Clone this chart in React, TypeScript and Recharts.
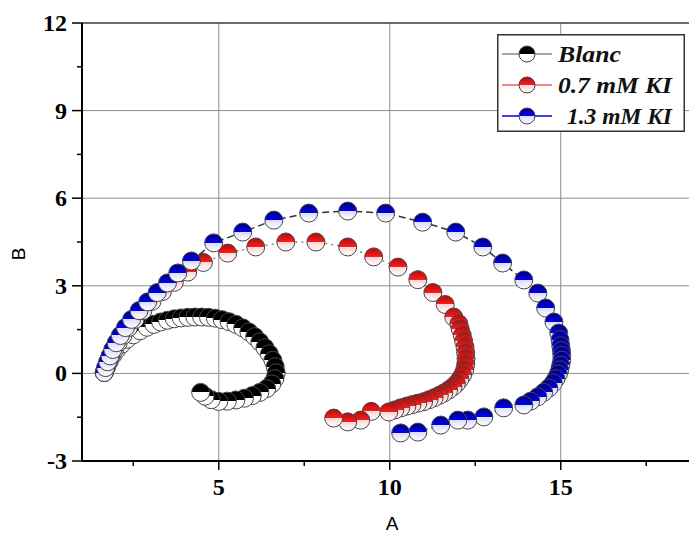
import { ScatterChart, Scatter, XAxis, YAxis, CartesianGrid, ReferenceLine, Legend } from 'recharts';

// Impedance spectra, [A, B] pairs in measurement order
const blanc: [number, number][] = [
  [1.65, 0.03], [1.72, 0.22], [1.8, 0.42], [1.9, 0.62], [2.02, 0.82], [2.16, 1.0], [2.32, 1.17],
  [2.5, 1.32], [2.7, 1.46], [2.9, 1.58], [3.1, 1.68], [3.3, 1.76], [3.5, 1.82], [3.7, 1.87],
  [3.9, 1.9], [4.1, 1.92], [4.3, 1.93], [4.5, 1.93], [4.7, 1.92], [4.9, 1.89], [5.1, 1.84],
  [5.3, 1.77], [5.5, 1.68], [5.7, 1.56], [5.88, 1.42], [6.05, 1.26], [6.2, 1.08], [6.35, 0.88],
  [6.48, 0.67], [6.58, 0.45], [6.65, 0.23], [6.68, 0.02], [6.64, -0.18], [6.55, -0.36],
  [6.4, -0.52], [6.2, -0.65], [5.98, -0.76], [5.75, -0.85], [5.5, -0.91], [5.25, -0.95],
  [5.0, -0.96], [4.78, -0.9], [4.6, -0.78], [4.47, -0.65],
];

const ki07: [number, number][] = [
  [1.65, 0.03], [1.7, 0.2], [1.77, 0.4], [1.85, 0.6], [1.95, 0.82], [2.06, 1.05], [2.2, 1.3],
  [2.36, 1.57], [2.55, 1.85], [2.78, 2.15], [3.05, 2.47], [3.35, 2.8], [3.7, 3.12], [4.09, 3.47],
  [4.55, 3.8], [5.26, 4.12], [6.08, 4.33], [6.96, 4.5], [7.84, 4.5], [8.77, 4.33], [9.53, 3.99],
  [10.24, 3.64], [10.82, 3.21], [11.26, 2.77], [11.62, 2.36], [11.87, 1.93], [12.02, 1.7],
  [12.06, 1.52], [12.12, 1.3], [12.16, 1.1], [12.2, 0.9], [12.22, 0.7], [12.23, 0.5], [12.22, 0.3],
  [12.19, 0.12], [12.13, -0.05], [12.05, -0.2], [11.95, -0.35], [11.85, -0.46], [11.72, -0.57],
  [11.58, -0.67], [11.45, -0.75], [11.3, -0.83], [11.15, -0.9], [10.99, -0.97], [10.82, -1.02],
  [10.65, -1.07], [10.5, -1.12], [10.32, -1.18], [10.15, -1.25], [9.97, -1.32], [9.46, -1.3],
  [9.15, -1.6], [8.77, -1.66], [8.36, -1.53],
];

const ki13: [number, number][] = [
  [1.65, 0.03], [1.69, 0.2], [1.75, 0.4], [1.82, 0.6], [1.9, 0.82], [2.0, 1.05], [2.12, 1.3],
  [2.27, 1.57], [2.45, 1.85], [2.67, 2.15], [2.92, 2.45], [3.2, 2.77], [3.5, 3.1], [3.8, 3.44],
  [4.2, 3.85], [4.85, 4.47], [5.7, 4.84], [6.61, 5.25], [7.63, 5.49], [8.77, 5.56], [9.88, 5.49],
  [10.96, 5.18], [11.93, 4.84], [12.72, 4.33], [13.3, 3.78], [13.92, 3.2], [14.33, 2.75],
  [14.56, 2.24], [14.8, 1.76], [14.94, 1.38], [14.98, 1.15], [15.0, 0.95], [15.02, 0.78],
  [15.03, 0.62], [15.03, 0.45], [15.0, 0.28], [14.97, 0.12], [14.93, -0.02], [14.86, -0.18],
  [14.78, -0.33], [14.65, -0.5], [14.5, -0.65], [14.33, -0.8], [14.12, -0.95], [13.92, -1.08],
  [13.33, -1.18], [12.75, -1.49], [12.28, -1.6], [11.99, -1.6], [11.49, -1.77], [10.82, -2.01],
  [10.32, -2.04],
];

const xTicks = [2.5, 5, 7.5, 10, 12.5, 15, 17.5];
const xLabeled = [5, 10, 15];
const yTicks = [-3, -1.5, 0, 1.5, 3, 4.5, 6, 7.5, 9, 10.5, 12];
const yLabeled = [-3, 0, 3, 6, 9, 12];

const series = [
  { id: 'blanc', name: 'Blanc', data: blanc, dark: '#000000', mid: '#000000', low: '#ffffff', line: '#666666', dash: '4 3', key: '#8a8a8a', tx: 61, tw: 63 },
  { id: 'ki07', name: '0.7 mM KI', data: ki07, dark: '#a81010', mid: '#ff1a1a', low: '#ffd6d6', line: '#7d8a7d', dash: '2 4', key: '#ff5a5a', tx: 61, tw: 114 },
  { id: 'ki13', name: '1.3 mM KI', data: ki13, dark: '#000070', mid: '#0000f0', low: '#dcdcff', line: '#333333', dash: '7 4', key: '#0000ff', tx: 70, tw: 105 },
];

const serif = '"Liberation Serif", "Times New Roman", serif';
const sans = '"Liberation Sans", Arial, sans-serif';

const halfDot = (gid: string, r: number) => (props: any) => (
  <circle cx={props.cx} cy={props.cy} r={r} fill={`url(#${gid})`} stroke="#454545" strokeWidth={1} />
);

const XTick = ({ x, y, payload }: any) => {
  const major = xLabeled.includes(payload.value);
  return (
    <g>
      <line x1={x} x2={x} y1={y} y2={y + (major ? 9 : 5)} stroke="#000" strokeWidth={1.5} />
      {major && (
        <text x={x} y={y + 34} textAnchor="middle" fontFamily={serif} fontWeight="bold" fontSize={24} fill="#000">
          {payload.value}
        </text>
      )}
    </g>
  );
};

const YTick = ({ x, y, payload }: any) => {
  const major = yLabeled.includes(payload.value);
  return (
    <g>
      <line x1={x - (major ? 10 : 5)} x2={x} y1={y} y2={y} stroke="#000" strokeWidth={1.5} />
      {major && (
        <text x={x - 15} y={y + 8} textAnchor="end" fontFamily={serif} fontWeight="bold" fontSize={24} fill="#000">
          {payload.value}
        </text>
      )}
    </g>
  );
};

const LegendBox = () => (
  <svg width={188} height={98} style={{ display: 'block' }}>
    <rect x={0.75} y={0.75} width={186.5} height={96.5} fill="#fff" stroke="#333" strokeWidth={1.5} />
    {series.map((s, i) => {
      const cy = 20 + i * 31;
      return (
        <g key={s.id}>
          <line x1={5} x2={55} y1={cy} y2={cy} stroke={s.key} strokeWidth={1.5} />
          <circle cx={30} cy={cy} r={8} fill={`url(#${s.id})`} stroke="#454545" strokeWidth={1} />
          <text
            x={s.tx}
            y={cy + 8}
            textLength={s.tw}
            lengthAdjust="spacingAndGlyphs"
            fontFamily={serif}
            fontWeight="bold"
            fontStyle="italic"
            fontSize={23}
            fill="#111"
          >
            {s.name}
          </text>
        </g>
      );
    })}
  </svg>
);

export default function App() {
  return (
    <div style={{ position: 'fixed', left: 0, top: 0, width: 689, height: 535, background: '#fff' }}>
      <svg width={0} height={0} style={{ position: 'absolute' }}>
        <defs>
          {series.map((s) => (
            <linearGradient key={s.id} id={s.id} x1="0" y1="0" x2="0" y2="1">
              <stop offset="0" stopColor={s.dark} />
              <stop offset="0.5" stopColor={s.mid} />
              <stop offset="0.5" stopColor={s.low} />
              <stop offset="1" stopColor="#ffffff" />
            </linearGradient>
          ))}
        </defs>
      </svg>
      <ScatterChart width={689} height={535} margin={{ top: 23, right: 0, bottom: 24, left: 22 }}>
        <CartesianGrid stroke="#8c8c8c" strokeWidth={1} horizontalValues={[0, 3, 6, 9]} verticalValues={xLabeled} />
        <ReferenceLine y={12} stroke="#3a3a3a" strokeWidth={1.5} />
        <XAxis
          type="number"
          dataKey="a"
          domain={[1, 18.75]}
          ticks={xTicks}
          interval={0}
          height={50}
          tickSize={0}
          tickMargin={0}
          tickLine={false}
          axisLine={{ stroke: '#000', strokeWidth: 2 }}
          tick={<XTick />}
          label={(p: any) => (
            <text x={p.viewBox.x + 310} y={p.viewBox.y + 69} textAnchor="middle" fontFamily={sans} fontSize={19} fill="#000">
              A
            </text>
          )}
        />
        <YAxis
          type="number"
          dataKey="b"
          domain={[-3, 12]}
          ticks={yTicks}
          interval={0}
          width={60}
          tickSize={0}
          tickMargin={0}
          tickLine={false}
          axisLine={{ stroke: '#000', strokeWidth: 2 }}
          tick={<YTick />}
          label={(p: any) => (
            <text
              x={p.viewBox.x - 4}
              y={p.viewBox.y + 231}
              textAnchor="middle"
              dominantBaseline="central"
              transform={`rotate(-90, ${p.viewBox.x - 4}, ${p.viewBox.y + 231})`}
              fontFamily={sans}
              fontSize={19}
              fill="#000"
            >
              B
            </text>
          )}
        />
        {series.map((s) => (
          <Scatter
            key={s.id}
            name={s.name}
            data={s.data.map(([a, b]) => ({ a, b }))}
            shape={halfDot(s.id, 9)}
            line={{ stroke: s.line, strokeWidth: 1.5, strokeDasharray: s.dash }}
            lineType="joint"
            isAnimationActive={false}
          />
        ))}
        <Legend
          layout="vertical"
          align="center"
          verticalAlign="middle"
          wrapperStyle={{ left: 497, top: 34, width: 188, height: 98 }}
          content={() => <LegendBox />}
        />
      </ScatterChart>
    </div>
  );
}
